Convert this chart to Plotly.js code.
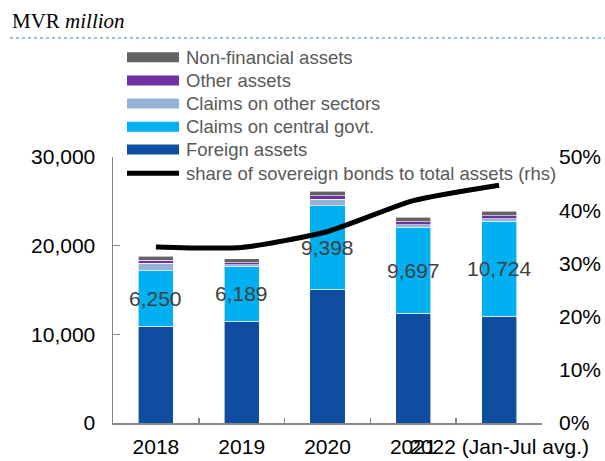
<!DOCTYPE html>
<html>
<head>
<meta charset="utf-8">
<script src="https://cdn.plot.ly/plotly-3.0.1.min.js"></script>
<style>
  html, body { margin: 0; padding: 0; background: #ffffff; }
  #chart { width: 605px; height: 461px; }
</style>
</head>
<body>
<div id="chart"></div>
<script>
// ---- Data ----
const categories = ["2018", "2019", "2020", "2021", "2022 (Jan-Jul avg.)"];
const foreignAssets = [10930, 11500, 15110, 12370, 12030];
const claimsCentralGovt = [6250, 6189, 9398, 9697, 10724];
const claimsOtherSectors = [830, 150, 750, 270, 300];
const otherAssets = [370, 260, 370, 340, 300];
const nonFinancialAssets = [450, 420, 490, 520, 530];
const sovereignShare = [33.1, 33.0, 36.0, 41.8, 44.7];
const centralLabels = ["6,250", "6,189", "9,398", "9,697", "10,724"];

const seriesNames = {
  foreign: "Foreign assets",
  central: "Claims on central govt.",
  otherSec: "Claims on other sectors",
  other: "Other assets",
  nonfin: "Non-financial assets",
  share: "share of sovereign bonds to total assets (rhs)"
};
const colors = {
  foreign: "#0E4DA0",
  central: "#00B0F0",
  otherSec: "#95B3D7",
  other: "#7030A0",
  nonfin: "#636363",
  share: "#000000"
};

// ---- Geometry helpers (layout only) ----
const W = 605, H = 461;
const L = 113, R = 542, T = 157, B = 423;
const px2x = p => (p - L) / (R - L);
const py2y = p => (B - p) / (B - T);

const barLine = { color: "rgba(255,255,255,0.8)", width: 0.75 };
function bar(vals, key) {
  return {
    type: "bar", x: categories, y: vals, name: seriesNames[key],
    marker: { color: colors[key], line: barLine },
    showlegend: false, hoverinfo: "skip"
  };
}

const traces = [
  bar(foreignAssets, "foreign"),
  bar(claimsCentralGovt, "central"),
  bar(claimsOtherSectors, "otherSec"),
  bar(otherAssets, "other"),
  bar(nonFinancialAssets, "nonfin"),
  {
    type: "scatter", mode: "lines", x: categories, y: sovereignShare, yaxis: "y2",
    name: seriesNames.share,
    line: { color: colors.share, width: 5, shape: "spline", smoothing: 0.6 },
    showlegend: false, hoverinfo: "skip"
  }
];

// data labels in the middle of the central govt segment (x = category index)
const annotations = categories.map((c, i) => ({
  x: i, y: foreignAssets[i] + claimsCentralGovt[i] / 2, xref: "x", yref: "y",
  text: centralLabels[i], showarrow: false,
  font: { family: "Liberation Sans, Arial, sans-serif", size: 21, color: "#404040" },
  xanchor: "center", yanchor: "middle"
}));

// unit text
annotations.push({
  xref: "paper", yref: "paper", x: px2x(10), y: py2y(21),
  xanchor: "left", yanchor: "middle", showarrow: false,
  text: "MVR <i>million</i>",
  font: { family: "Liberation Serif, Times New Roman, serif", size: 21, color: "#000000" }
});

const shapes = [{
  type: "line", xref: "paper", yref: "paper",
  x0: px2x(10), x1: px2x(605), y0: py2y(38), y1: py2y(38),
  line: { color: "#4472C4", width: 1, dash: "dot" }
}];

// custom legend
const legendOrder = ["nonfin", "other", "otherSec", "central", "foreign", "share"];
const rowY = [57.3, 80.5, 103.5, 126.7, 149.5, 173.3];
legendOrder.forEach((k, i) => {
  const y = rowY[i];
  if (k === "share") {
    shapes.push({
      type: "line", xref: "paper", yref: "paper",
      x0: px2x(127), x1: px2x(179), y0: py2y(y), y1: py2y(y),
      line: { color: colors.share, width: 5 }
    });
  } else {
    shapes.push({
      type: "rect", xref: "paper", yref: "paper",
      x0: px2x(127), x1: px2x(179), y0: py2y(y + 5), y1: py2y(y - 5),
      fillcolor: colors[k], line: { width: 0 }
    });
  }
  annotations.push({
    xref: "paper", yref: "paper", x: px2x(184), y: py2y(y),
    xanchor: "left", yanchor: "middle", showarrow: false,
    text: seriesNames[k],
    font: { family: "Liberation Sans, Arial, sans-serif", size: 18.5, color: "#595959" }
  });
});

const tickFont = { family: "Liberation Sans, Arial, sans-serif", size: 21, color: "#000000" };

const layout = {
  width: W, height: H,
  margin: { l: L, r: W - R, t: T, b: H - B, pad: 0 },
  paper_bgcolor: "#ffffff", plot_bgcolor: "#ffffff",
  barmode: "stack", bargap: 0.59,
  showlegend: false,
  xaxis: {
    type: "category", range: [-0.5, categories.length - 0.5], autorange: false,
    showgrid: false, zeroline: false,
    showline: true, linecolor: "#868686", linewidth: 1.5,
    ticks: "inside", tickson: "boundaries", ticklen: 5, tickcolor: "#868686", tickwidth: 1.5,
    tickangle: 0, tickfont: tickFont, ticklabelstandoff: 4
  },
  yaxis: {
    range: [0, 30000], autorange: false, dtick: 10000, tickformat: ",d",
    showgrid: false, zeroline: false,
    showline: true, linecolor: "#868686", linewidth: 1.5,
    ticks: "inside", ticklen: 7, tickcolor: "#868686", tickwidth: 1.5,
    tickfont: tickFont, ticklabelstandoff: 12
  },
  yaxis2: {
    overlaying: "y", side: "right", range: [0, 50], autorange: false, dtick: 10, ticksuffix: "%",
    showgrid: false, zeroline: false, showline: false, ticks: "",
    tickfont: tickFont, ticklabelstandoff: 16
  },
  annotations: annotations,
  shapes: shapes
};

Plotly.newPlot("chart", traces, layout, { displayModeBar: false, staticPlot: true });
</script>
</body>
</html>
